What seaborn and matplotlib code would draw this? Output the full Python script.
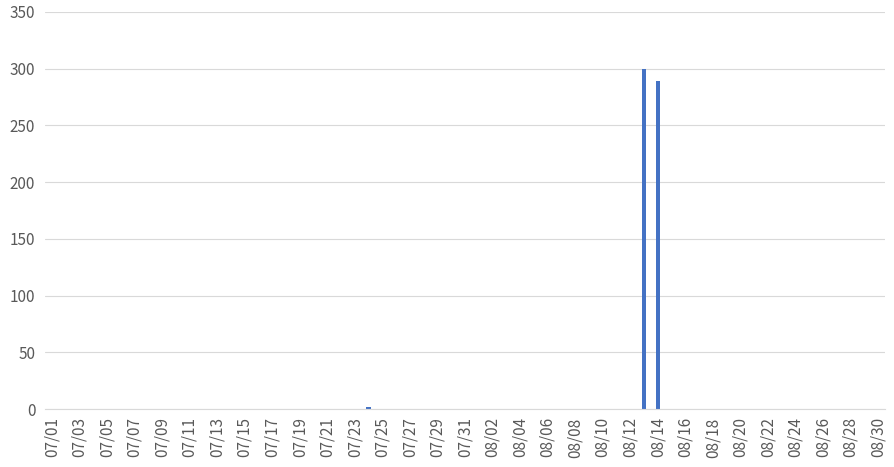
import pandas as pd
import numpy as np
import matplotlib.pyplot as plt
import seaborn as sns

# daily values, 07/01 .. 08/30
dates = pd.date_range("2023-07-01", "2023-08-30", freq="D").strftime("%m/%d").tolist()
nonzero = {"07/24": 2, "08/13": 300, "08/14": 289}
values = [nonzero.get(d, 0) for d in dates]

df = pd.DataFrame({"date": dates, "value": values})

sns.set_style("white")
plt.rcParams['font.family'] = ['Noto Sans CJK JP', 'DejaVu Sans']

fig = plt.figure(figsize=(8.95, 4.67), dpi=100)
ax = fig.add_axes([45 / 895, 1 - 409 / 467, 840 / 895, 397 / 467])

sns.barplot(data=df, x="date", y="value", order=dates, color="#4472C4",
            width=0.32, saturation=1, linewidth=0, ax=ax)

ax.set_ylim(0, 350)
ax.set_yticks(range(0, 351, 50))
ax.set_xlim(-0.5, len(dates) - 0.5)
ax.set_xticks(range(0, len(dates), 2))
ax.set_xticklabels(dates[::2], rotation=90)
ax.tick_params(axis="both", length=0, labelsize=11, labelcolor="#595959")
ax.tick_params(axis="y", pad=7)
ax.tick_params(axis="x", pad=6)
ax.set_xlabel("")
ax.set_ylabel("")

ax.yaxis.grid(True, color="#D9D9D9", linewidth=0.8)
ax.set_axisbelow(True)
for s in ["top", "right", "left"]:
    ax.spines[s].set_visible(False)
ax.spines["bottom"].set_color("#D9D9D9")

fig.savefig("out.png", dpi=100)
